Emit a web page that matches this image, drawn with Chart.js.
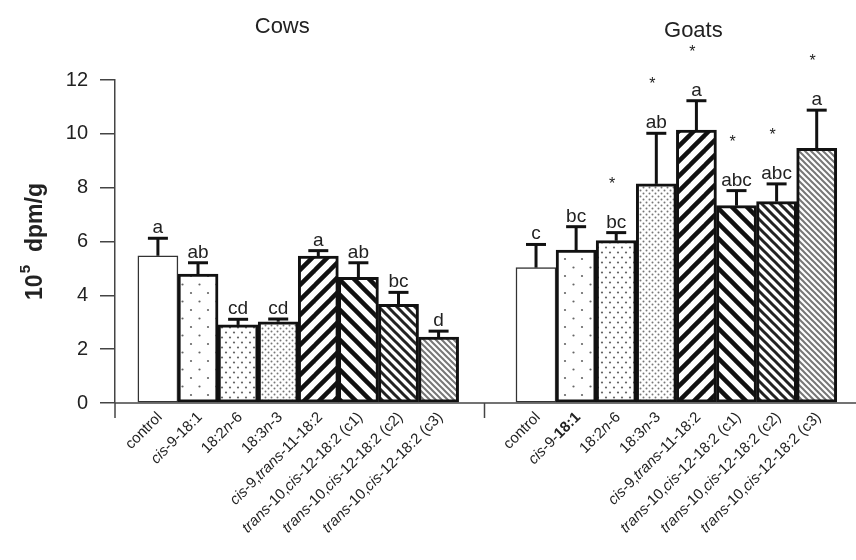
<!DOCTYPE html>
<html><head><meta charset="utf-8">
<script src="https://cdn.jsdelivr.net/npm/chart.js@4/dist/chart.umd.min.js"></script>
<style>html,body{margin:0;padding:0;background:#fff}canvas{display:block}</style>
</head><body>
<canvas id="c" width="856" height="560"></canvas>
<script>
// ---------- data ----------
const groups = ['Cows', 'Goats'];
// '*' toggles italic, '#' toggles bold
const cowsLabels = ['control', '*cis*-9-18:1', '18:2*n*-6', '18:3*n*-3', '*cis*-9,*trans*-11-18:2',
  '*trans*-10,*cis*-12-18:2 (c1)', '*trans*-10,*cis*-12-18:2 (c2)', '*trans*-10,*cis*-12-18:2 (c3)'];
const goatsLabels = ['control', '*cis*-9-#18:1#', '18:2*n*-6', '18:3*n*-3', '*cis*-9,*trans*-11-18:2',
  '*trans*-10,*cis*-12-18:2 (c1)', '*trans*-10,*cis*-12-18:2 (c2)', '*trans*-10,*cis*-12-18:2 (c3)'];
const cowsMean = [5.47, 4.79, 2.90, 3.02, 5.46, 4.67, 3.67, 2.45];
const cowsSE = [0.65, 0.42, 0.21, 0.10, 0.20, 0.54, 0.44, 0.22];
const goatsMean = [5.03, 5.68, 6.03, 8.14, 10.14, 7.33, 7.48, 9.46];
const goatsSE = [0.86, 0.87, 0.30, 1.88, 1.09, 0.56, 0.66, 1.42];
const cowsLetters = ['a', 'ab', 'cd', 'cd', 'a', 'ab', 'bc', 'd'];
const goatsLetters = ['c', 'bc', 'bc', 'ab', 'a', 'abc', 'abc', 'a'];
const cowsStar = [false, false, false, false, false, false, false, false];
const goatsStar = [false, false, true, true, true, true, true, true];
const yTicks = [0, 2, 4, 6, 8, 10, 12];

// ---------- layout constants ----------
const GOAT_SHIFT = 9.43;   // x offset of the goats group (in bar widths)
const FONT = '"Liberation Sans", Arial, Helvetica, sans-serif';

const canvas = document.getElementById('c');
const ctx = canvas.getContext('2d');

function tile(w, h, draw) {
  const c = document.createElement('canvas');
  c.width = w; c.height = h;
  const g = c.getContext('2d');
  g.fillStyle = '#fff'; g.fillRect(0, 0, w, h);
  draw(g, w, h);
  return ctx.createPattern(c, 'repeat');
}
function dots(w, h, pts, r, color) {
  return tile(w, h, (g) => {
    g.fillStyle = color;
    pts.forEach(([x, y]) => { g.beginPath(); g.arc(x, y, r, 0, Math.PI * 2); g.fill(); });
  });
}
function stripes(s, lw, color, dir) {
  return tile(s, s, (g) => {
    g.strokeStyle = color; g.lineWidth = lw; g.lineCap = 'square';
    for (let k = -1; k <= 1; k++) {
      g.beginPath();
      if (dir === '/') { g.moveTo(k * s, s); g.lineTo(k * s + s, 0); }
      else { g.moveTo(k * s, 0); g.lineTo(k * s + s, s); }
      g.stroke();
    }
  });
}
const fills = [
  '#ffffff',
  dots(17, 17, [[4, 4], [12.5, 12.5]], 1.1, '#666'),
  dots(8, 10, [[2, 2.5], [6, 7.5]], 1.1, '#666'),
  dots(6, 6, [[1.5, 1.5], [4.5, 4.5]], 1.0, '#777'),
  stripes(15, 4.5, '#111', '/'),
  stripes(15, 4.5, '#111', '\\'),
  stripes(9, 3, '#222', '\\'),
  stripes(6, 2, '#777', '\\')
];

const allMeans = cowsMean.concat(goatsMean);
const allSE = cowsSE.concat(goatsSE);
const allLetters = cowsLetters.concat(goatsLetters);
const allStars = cowsStar.concat(goatsStar);
const allLabels = cowsLabels.concat(goatsLabels);
const points = allMeans.map((v, i) => ({ x: (i % 8) + (i >= 8 ? GOAT_SHIFT : 0), y: v }));
const bgs = allMeans.map((v, i) => fills[i % 8]);
const bws = allMeans.map((v, i) => (i % 8 === 0 ? 1.5 : 3));
const bcs = allMeans.map((v, i) => (i % 8 === 0 ? '#333' : '#111'));

function parseRich(spec) {
  const segs = []; let it = false, bd = false, cur = '';
  for (const ch of spec) {
    if (ch === '*' || ch === '#') {
      if (cur) segs.push({ t: cur, it, bd });
      cur = '';
      if (ch === '*') it = !it; else bd = !bd;
    } else cur += ch;
  }
  if (cur) segs.push({ t: cur, it, bd });
  return segs;
}
function fontFor(s, size) { return (s.it ? 'italic ' : '') + (s.bd ? 'bold ' : '') + size + 'px ' + FONT; }

const annot = {
  id: 'annot',
  afterDatasetsDraw(chart) {
    const c = chart.ctx, xs = chart.scales.x, ys = chart.scales.y, ca = chart.chartArea;
    c.save();
    // error bars, letters, asterisks
    points.forEach((p, i) => {
      const px = xs.getPixelForValue(p.x);
      const top = ys.getPixelForValue(p.y);
      const et = ys.getPixelForValue(p.y + allSE[i]);
      c.strokeStyle = '#111'; c.lineWidth = 3; c.lineCap = 'butt';
      c.beginPath(); c.moveTo(px, top); c.lineTo(px, et); c.stroke();
      c.beginPath(); c.moveTo(px - 10, et); c.lineTo(px + 10, et); c.stroke();
      c.fillStyle = '#222'; c.textAlign = 'center'; c.textBaseline = 'alphabetic';
      c.font = '19px ' + FONT;
      c.fillText(allLetters[i], px, et - 5);
      if (allStars[i]) {
        c.font = '16px ' + FONT;
        c.fillText('*', px - 4, et - 44);
      }
    });
    // x axis line, separator tick, y axis extension
    c.strokeStyle = '#444'; c.lineWidth = 1.5;
    c.beginPath(); c.moveTo(ca.left, ca.bottom); c.lineTo(ca.right, ca.bottom); c.stroke();
    c.beginPath(); c.moveTo(ca.left, ca.bottom); c.lineTo(ca.left, ca.bottom + 15); c.stroke();
    const sep = xs.getPixelForValue((7 + GOAT_SHIFT) / 2 - 0.07);
    c.beginPath(); c.moveTo(sep, ca.bottom); c.lineTo(sep, ca.bottom + 15); c.stroke();
    // x labels
    c.fillStyle = '#222';
    points.forEach((p, i) => {
      const px = xs.getPixelForValue(p.x);
      const segs = parseRich(allLabels[i]);
      let total = 0;
      segs.forEach(s => { c.font = fontFor(s, 15); s.w = c.measureText(s.t).width; total += s.w; });
      c.save();
      c.translate(px + 2, ca.bottom + 12);
      c.rotate(-Math.PI / 4);
      c.textAlign = 'left'; c.textBaseline = 'middle';
      let cx = -total;
      segs.forEach(s => { c.font = fontFor(s, 15); c.fillText(s.t, cx, 0); cx += s.w; });
      c.restore();
    });
    // group titles
    c.font = '22px ' + FONT; c.textAlign = 'center'; c.textBaseline = 'alphabetic'; c.fillStyle = '#222';
    c.fillText(groups[0], xs.getPixelForValue(3.5) - 16, 33);
    c.fillText(groups[1], xs.getPixelForValue(3.5 + GOAT_SHIFT) + 17, 37);
    // y title
    c.save();
    c.translate(42, (ca.top + ca.bottom) / 2);
    c.rotate(-Math.PI / 2);
    c.textAlign = 'left'; c.textBaseline = 'alphabetic';
    const big = 'bold 23px ' + FONT, small = 'bold 15px ' + FONT;
    c.font = big; const w10 = c.measureText('10').width;
    c.font = small; const w5 = c.measureText('5').width;
    c.font = big; const wGap = 14; const wD = c.measureText('dpm/g').width;
    const tot = w10 + w5 + wGap + wD;
    let u = -tot / 2;
    c.font = big; c.fillText('10', u, 0); u += w10;
    c.font = small; c.fillText('5', u + 1, -12); u += w5 + wGap;
    c.font = big; c.fillText('dpm/g', u, 0);
    c.restore();
    c.restore();
  }
};

new Chart(canvas, {
  type: 'bar',
  data: {
    datasets: [{
      data: points,
      backgroundColor: bgs,
      borderColor: bcs,
      borderWidth: bws,
      borderSkipped: false,
      barPercentage: 1,
      categoryPercentage: 1
    }]
  },
  options: {
    responsive: false,
    devicePixelRatio: 1,
    animation: false,
    events: [],
    layout: { padding: { top: 80, bottom: 157, left: 0, right: 0 } },
    plugins: { legend: { display: false }, tooltip: { enabled: false }, title: { display: false } },
    scales: {
      x: { type: 'linear', min: -1.07, max: 17.41, offset: false, display: false },
      y: {
        min: 0, max: 12,
        afterBuildTicks: (s) => { s.ticks = yTicks.map(v => ({ value: v })); },
        afterFit: (s) => { s.width = 115; },
        ticks: { color: '#222', font: { size: 20, family: FONT }, padding: 12 },
        grid: { drawOnChartArea: false, drawTicks: true, tickLength: 15, color: '#444', lineWidth: 1.5 },
        border: { display: true, color: '#444', width: 1.5 }
      }
    }
  },
  plugins: [annot]
});
</script>
</body></html>
